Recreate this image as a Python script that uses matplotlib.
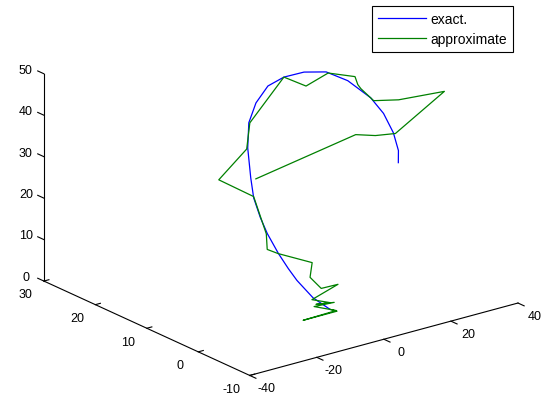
import matplotlib
matplotlib.use("Agg")
import matplotlib.pyplot as plt
from mpl_toolkits.mplot3d import proj3d

plt.rcParams["font.family"] = ["Liberation Sans", "DejaVu Sans"]

# exact trajectory (x, y, z)
exact_x = [-8.4, -10.4, -12.1, -11.6, -11.5, -10.2, -9.2, -6.6, -4.4, -0.7, 2.7,
           7.9, 13.0, 19.3, 25.3, 31.9, 32.2, 32.9, 30.6, 27.4, 24.3, 21.2]
exact_y = [-5, -3, -1, 1, 3, 6, 8, 11, 13, 16, 18,
           20, 21, 22, 22, 22, 18, 14, 10, 6, 3, 1]
exact_z = [6.2, 8.3, 11.7, 13.3, 15.8, 18.6, 21.1, 23.6, 26.8, 31.5, 35.7,
           38.2, 40.6, 40.8, 40.7, 39.3, 39.4, 37.4, 36.4, 34.7, 32.8, 31.7]

# approximate trajectory (x, y, z)
approx_x = [-8.4, -6.3, -16.4, -5.0, -11.6, -5.6, -9.5, -5.3, -10.7, -1.4, -6.4,
            -8.2, -4.5, -11.6, -13.3, -10.5, -6.6, -12.4, -1.0, 3.0, 19.3, 25.9,
            32.5, 35.9, 35.2, 34.6, 33.8, 35.1, 33.4, 28.0, 25.1, 22.3, 4.8]
approx_y = [-5, -5, -5, -4, -4, -4, -3, -3, -3, -2, -2,
            -1, 1, 3, 4, 6, 11, 14, 16, 18, 22, 22,
            22, 19, 18, 17, 14, 10, 0, 6, 8, 10, 18]
approx_z = [6.2, 5.3, 5.3, 4.6, 7.0, 6.7, 6.5, 6.0, 7.9, 9.0, 9.1,
            11.6, 13.2, 15.8, 16.6, 18.6, 23.9, 27.5, 31.3, 35.6, 40.8, 37.2,
            38.9, 39.0, 37.8, 37.5, 36.5, 38.7, 46.8, 34.4, 33.4, 33.1, 21.7]

x_ticks = [-40, -20, 0, 20, 40]
y_ticks = [-10, 0, 10, 20, 30]
z_ticks = [0, 10, 20, 30, 40, 50]

fig = plt.figure(figsize=(5.52, 4.06), dpi=100)
ax = fig.add_axes([-0.001, 0.020, 1, 1], projection="3d")
ax.set_proj_type("ortho")
ax.view_init(elev=20.6, azim=-127.5)
ax.set_box_aspect((1, 1, 0.655), zoom=1.26)
ax.set_xlim(-40, 40)
ax.set_ylim(-10, 30)
ax.set_zlim(0, 50)
ax.set_axis_off()

M = ax.get_proj()


def label(x, y, z, s):
    # put tick label at the projected spot of a 3d point
    px, py, _ = proj3d.proj_transform(x, y, z, M)
    ax.text2D(px, py, s, transform=ax.transData, ha="center", va="center",
              fontsize=9)


# box edges like matlab (only three axes drawn)
k = dict(color="black", lw=0.8, clip_on=False)
ax.plot([-40, -40], [30, 30], [0, 50], **k)
ax.plot([-40, -40], [30, -10], [0, 0], **k)
ax.plot([-40, 40], [-10, -10], [0, 0], **k)

for t in z_ticks:
    ax.plot([-40, -40], [30, 31.2], [t, t], **k)
    label(-40, 33.5, t - 1, str(t))
for t in y_ticks:
    ax.plot([-40, -38.5], [t, t], [0, 0], **k)
    label(-45.5, t, -2, str(t))
for t in x_ticks:
    ax.plot([t, t], [-10, -11.2], [0, 0], **k)
    label(t, -13.3, -1.2, str(t))

l1, = ax.plot(exact_x, exact_y, exact_z, color="#0000ff", lw=0.9, clip_on=False)
l2, = ax.plot(approx_x, approx_y, approx_z, color="#008000", lw=0.9, clip_on=False)

leg = fig.legend([l1, l2], ["exact.", "approximate"], loc="upper right",
                 bbox_to_anchor=(512.7 / 552, 1 - 7.3 / 406), borderaxespad=0,
                 fancybox=False, edgecolor="black", framealpha=1,
                 handlelength=3.45, handletextpad=0.35, labelspacing=0.45,
                 fontsize=10, borderpad=0.4)
leg.get_frame().set_linewidth(0.8)

fig.savefig("out.png", dpi=100)
